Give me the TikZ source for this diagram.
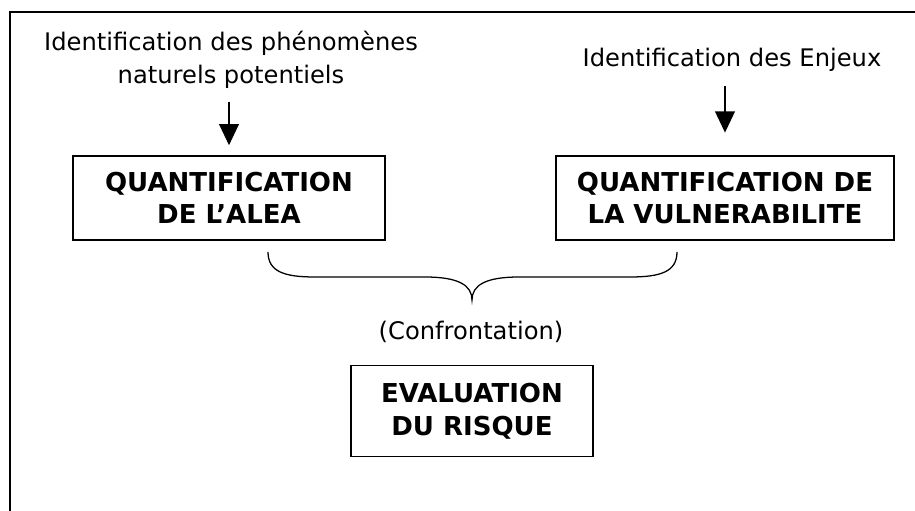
\documentclass[tikz,border=0pt]{standalone}
\usepackage{fontspec}
\setmainfont{DejaVu Sans}
\usetikzlibrary{arrows.meta}

\tikzset{
  texte/.style={align=center, inner sep=0pt, font=\fontsize{17.2}{23.4}\selectfont},
  boite/.style={draw, line width=1.3pt, align=center, inner sep=0pt,
    font=\fontsize{18.5}{23.2}\selectfont\bfseries},
  fleche/.style={line width=1.1pt, -{Triangle[width=14pt,length=15pt]}}
}

\begin{document}
\begin{tikzpicture}[x=0.025cm, y=-0.025cm]
      \useasboundingbox (0,0) rectangle (915,511);
      \draw[line width=1.2pt] (10,511) -- (10,12) -- (915,12);

      \node[texte] (phen) at (231,60){Identification des phénomènes\\naturels potentiels};
      \node[texte] (enjeux) at (732,60){Identification des Enjeux};

      \node[boite, minimum width=312*0.025cm, minimum height=84*0.025cm] (alea) at (229,198){QUANTIFICATION\\DE L’ALEA};
      \node[boite, minimum width=338*0.025cm, minimum height=84*0.025cm] (vuln) at (725,198){QUANTIFICATION DE\\LA VULNERABILITE};
      \node[texte] (conf) at (471,332){(Confrontation)};
      \node[boite, minimum width=242*0.025cm, minimum height=91*0.025cm] (risque) at (472,411){EVALUATION\\DU RISQUE};

      \draw[fleche, shorten <=9pt, shorten >=7pt] (phen.south -| alea.north) -- (alea.north);
      \draw[fleche, shorten <=10pt, shorten >=16pt] (enjeux.south -| vuln.north) -- (vuln.north);

      % accolade sous les deux quantifications
      \draw[line width=0.9pt] (268,252) .. controls (268,272) and (285,277) .. (315,277)
        -- (425,277) .. controls (458,277) and (472,285) .. (472,300)
        .. controls (472,285) and (486,277) .. (519,277)
        -- (630,277) .. controls (660,277) and (677,272) .. (677,252);
    \end{tikzpicture}
\end{document}
